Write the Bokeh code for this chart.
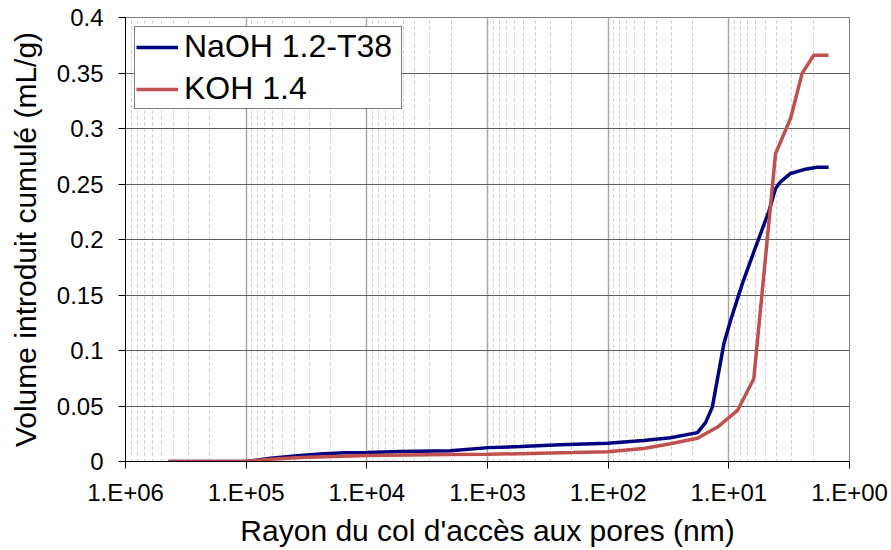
from bokeh.plotting import figure
from bokeh.models import Range1d, FixedTicker, CustomJSTickFormatter
from bokeh.embed import file_html
from bokeh.resources import INLINE

# ---- data ----
naoh_radius = [440000, 100000, 62800, 35500, 22900, 15000, 9900, 5260, 2030, 982,
               533, 248, 101, 50.9, 30.5, 18.2, 15.6, 13.7, 11.0, 9.68,
               7.74, 6.01, 4.67, 4.10, 3.73, 3.08, 2.39, 1.85, 1.49]
naoh_volume = [0, 0, 0.003, 0.0055, 0.007, 0.0078, 0.0082, 0.009, 0.0097, 0.0125,
               0.0135, 0.015, 0.0165, 0.019, 0.0214, 0.026, 0.035, 0.049, 0.106, 0.127,
               0.160, 0.193, 0.225, 0.246, 0.252, 0.2595, 0.263, 0.265, 0.265]

koh_radius = [440000, 100000, 62800, 35500, 9900, 2030, 982, 194, 101, 50.9,
              30.5, 18.2, 12.4, 8.47, 6.21, 4.10, 3.08, 2.47, 1.98, 1.49]
koh_volume = [0, 0, 0.002, 0.0035, 0.0054, 0.0063, 0.0065, 0.008, 0.0088, 0.0117,
              0.016, 0.021, 0.031, 0.046, 0.0746, 0.2775, 0.309, 0.3497, 0.366, 0.366]

x_major = [1e6, 1e5, 1e4, 1e3, 1e2, 1e1, 1e0]
x_minor = [m * 10 ** k for k in range(0, 6) for m in range(2, 10)]
y_major = [0, 0.05, 0.1, 0.15, 0.2, 0.25, 0.3, 0.35, 0.4]

series_names = ["NaOH 1.2-T38", "KOH 1.4"]
series_colors = ["#000080", "#C0504D"]

FONT = "Liberation Sans"

p = figure(width=891, height=550, x_axis_type="log",
           x_range=Range1d(1e6, 1), y_range=Range1d(0, 0.4),
           output_backend="svg", toolbar_location=None,
           min_border_left=125, min_border_right=42,
           min_border_top=17, min_border_bottom=89)

p.background_fill_color = "white"
p.border_fill_color = "white"
p.outline_line_color = "#808080"
p.outline_line_width = 1

p.line(naoh_radius, naoh_volume, color=series_colors[0], line_width=3.5,
       legend_label=series_names[0])
p.line(koh_radius, koh_volume, color=series_colors[1], line_width=3.5,
       legend_label=series_names[1])

# x axis
xa = p.xaxis[0]
xa.ticker = FixedTicker(ticks=x_major, minor_ticks=x_minor)
xa.formatter = CustomJSTickFormatter(code="""
const e = Math.round(Math.log10(tick));
return '1.E+' + (e < 10 ? '0' : '') + e;
""")
xa.axis_label = "Rayon du col d'accès aux pores (nm)"
xa.axis_label_text_font = FONT
xa.axis_label_text_font_size = "30px"
xa.axis_label_text_font_style = "normal"
xa.axis_label_text_color = "black"
xa.axis_label_standoff = 5
xa.major_label_text_font = FONT
xa.major_label_text_font_size = "24px"
xa.major_label_text_color = "black"
xa.major_label_standoff = 10
xa.major_tick_in = 0
xa.major_tick_out = 7
xa.major_tick_line_color = "black"
xa.minor_tick_line_color = None
xa.axis_line_color = "black"

# y axis
ya = p.yaxis[0]
ya.ticker = FixedTicker(ticks=y_major, minor_ticks=[])
ya.formatter = CustomJSTickFormatter(code="return String(Number(tick.toFixed(3)));")
ya.axis_label = "Volume introduit cumulé (mL/g)"
ya.axis_label_text_font = FONT
ya.axis_label_text_font_size = "30px"
ya.axis_label_text_font_style = "normal"
ya.axis_label_text_color = "black"
ya.axis_label_standoff = 12
ya.major_label_text_font = FONT
ya.major_label_text_font_size = "24px"
ya.major_label_text_color = "black"
ya.major_label_standoff = 15
ya.major_tick_in = 0
ya.major_tick_out = 7
ya.major_tick_line_color = "black"
ya.minor_tick_line_color = None
ya.axis_line_color = "black"

# grids
xg = p.xgrid[0]
xg.grid_line_color = "#A6A6A6"
xg.grid_line_width = 1.5
xg.minor_grid_line_color = "#C8C8C8"
xg.minor_grid_line_dash = "3 3"
xg.minor_grid_line_width = 1

yg = p.ygrid[0]
yg.grid_line_color = "#606060"
yg.grid_line_width = 1

# legend
lg = p.legend[0]
lg.location = "top_left"
lg.margin = 9
lg.padding = 1
lg.spacing = 5
lg.glyph_width = 42
lg.glyph_height = 34
lg.label_height = 34
lg.label_width = 216
lg.label_standoff = 6
lg.label_text_font = FONT
lg.label_text_font_size = "32px"
lg.label_text_color = "black"
lg.border_line_color = "black"
lg.border_line_width = 1
lg.background_fill_color = "white"
lg.background_fill_alpha = 1

open("out.html", "w").write(file_html(p, INLINE))
